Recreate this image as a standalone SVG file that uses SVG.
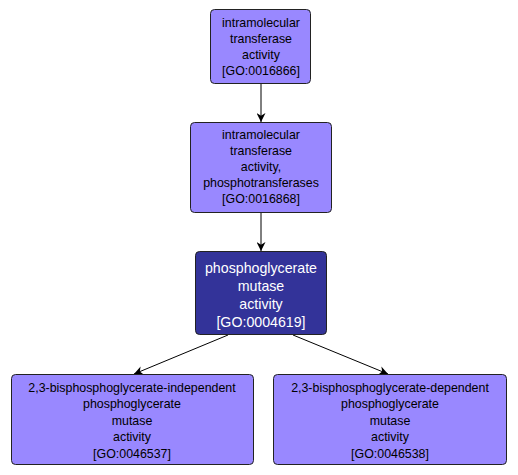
<svg xmlns="http://www.w3.org/2000/svg" width="518" height="475" viewBox="0 0 518 475">
<style>
.bg{fill:#ffffff}
.n rect{fill:#9988ff;stroke:#222222;stroke-width:1}
.d rect{fill:#333399;stroke:#222222;stroke-width:1}
.n text{font-family:"Liberation Sans",Arial,sans-serif;font-size:12.4px;fill:#000000;text-anchor:middle}
.d text{font-family:"Liberation Sans",Arial,sans-serif;font-size:14.2px;fill:#ffffff;text-anchor:middle}
.e{stroke:#000000;stroke-width:1;fill:none;marker-end:url(#ah)}
</style>
<defs>
<marker id="ah" viewBox="0 0 10 10" refX="10" refY="5" markerWidth="9" markerHeight="9" markerUnits="userSpaceOnUse" orient="auto">
<path d="M0,0 L10,5 L0,10 L3,5 z" fill="#000000"/>
</marker>
</defs>
<rect class="bg" x="0" y="0" width="518" height="475"/>
<g id="edges">
<line class="e" x1="261" y1="83" x2="261" y2="122"/>
<line class="e" x1="261" y1="212" x2="261" y2="251"/>
<line class="e" x1="228" y1="335" x2="134" y2="374"/>
<line class="e" x1="293" y1="335" x2="388" y2="374"/>
</g>
<g id="GO0016866" class="n">
<rect x="210.5" y="9.5" width="100" height="74" rx="4"/>
<text x="261" y="27">intramolecular</text>
<text x="261" y="43">transferase</text>
<text x="261" y="59">activity</text>
<text x="261" y="75">[GO:0016866]</text>
</g>
<g id="GO0016868" class="n">
<rect x="190.5" y="122.5" width="141" height="90" rx="4"/>
<text x="261" y="139">intramolecular</text>
<text x="261" y="155">transferase</text>
<text x="261" y="171">activity,</text>
<text x="261" y="187">phosphotransferases</text>
<text x="261" y="203">[GO:0016868]</text>
</g>
<g id="GO0004619" class="d">
<rect x="195.5" y="251.5" width="131" height="83" rx="4"/>
<text x="261" y="273">phosphoglycerate</text>
<text x="261" y="291">mutase</text>
<text x="261" y="309">activity</text>
<text x="261" y="327">[GO:0004619]</text>
</g>
<g id="GO0046537" class="n">
<rect x="11.5" y="374.5" width="242" height="90" rx="4"/>
<text x="132" y="392">2,3-bisphosphoglycerate-independent</text>
<text x="132" y="408">phosphoglycerate</text>
<text x="132" y="425">mutase</text>
<text x="132" y="441">activity</text>
<text x="132" y="458">[GO:0046537]</text>
</g>
<g id="GO0046538" class="n">
<rect x="273.5" y="374.5" width="233" height="90" rx="4"/>
<text x="390" y="392">2,3-bisphosphoglycerate-dependent</text>
<text x="390" y="408">phosphoglycerate</text>
<text x="390" y="425">mutase</text>
<text x="390" y="441">activity</text>
<text x="390" y="458">[GO:0046538]</text>
</g>
</svg>
